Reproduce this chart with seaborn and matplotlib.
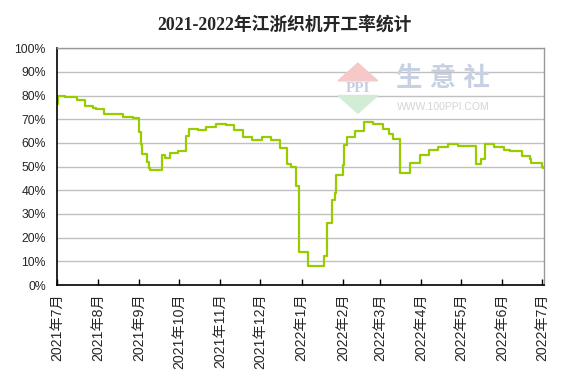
import pandas as pd
import seaborn as sns
from matplotlib import pyplot as plt
from matplotlib.patches import Polygon
from matplotlib.ticker import FuncFormatter

# dates where the rate changes (value holds until next date)
dates = [
    "2021-07-01", "2021-07-02", "2021-07-07", "2021-07-16", "2021-07-22", "2021-07-28",
    "2021-07-30", "2021-08-05", "2021-08-20", "2021-08-27", "2021-09-01", "2021-09-02",
    "2021-09-03", "2021-09-07", "2021-09-08", "2021-09-09", "2021-09-18", "2021-09-20",
    "2021-09-24", "2021-09-30", "2021-10-06", "2021-10-08", "2021-10-15", "2021-10-21",
    "2021-10-29", "2021-11-05", "2021-11-11", "2021-11-18", "2021-11-25", "2021-12-02",
    "2021-12-09", "2021-12-16", "2021-12-21", "2021-12-24", "2021-12-28", "2021-12-30",
    "2022-01-06", "2022-01-18", "2022-01-20", "2022-01-24", "2022-01-26", "2022-01-27",
    "2022-02-01", "2022-02-02", "2022-02-04", "2022-02-10", "2022-02-17", "2022-02-24",
    "2022-03-03", "2022-03-08", "2022-03-11", "2022-03-16", "2022-03-24", "2022-03-31",
    "2022-04-07", "2022-04-14", "2022-04-21", "2022-04-29", "2022-05-12", "2022-05-16",
    "2022-05-19", "2022-05-26", "2022-06-02", "2022-06-07", "2022-06-16", "2022-06-22",
    "2022-06-23", "2022-07-01", "2022-07-02",
]
rates = [
    76.5, 80.0, 79.2, 78.3, 75.5, 74.8,
    74.2, 72.0, 71.1, 70.4, 64.8, 59.5,
    55.1, 51.9, 49.6, 48.7, 54.7, 53.6,
    55.7, 56.4, 62.7, 66.0, 65.5, 66.9,
    67.8, 67.4, 65.5, 62.3, 61.3, 62.3,
    61.2, 57.8, 51.2, 49.8, 41.6, 13.9,
    7.9, 12.1, 26.2, 35.7, 38.8, 46.5,
    50.8, 59.2, 62.3, 65.0, 69.0, 68.1,
    65.8, 63.7, 61.6, 47.3, 51.7, 55.0,
    57.1, 58.1, 59.6, 58.6, 50.9, 53.4,
    59.5, 58.1, 57.2, 56.7, 54.4, 53.2,
    51.5, 50.0, 49.5,
]
month_ticks = pd.date_range("2021-07-01", "2022-07-01", freq="MS")
tick_labels = [f"{d.year}年{d.month}月" for d in month_ticks]

df = pd.DataFrame({"date": pd.to_datetime(dates), "rate": rates})

sns.set_style("white")
plt.rcParams['font.family'] = ['Liberation Sans', 'Noto Sans CJK SC']

fig = plt.figure(figsize=(5.68, 3.85), dpi=100)
ax = fig.add_axes([0.1004, 0.2597, 0.8578, 0.6153])

sns.lineplot(data=df, x="date", y="rate", ax=ax, color="#99cc00",
             linewidth=1.6, drawstyle="steps-post")

ax.set_ylim(0, 100)
ax.set_yticks(range(0, 101, 10))
ax.yaxis.set_major_formatter(FuncFormatter(lambda v, p: f"{int(v)}%"))
ax.set_xlim(pd.Timestamp("2021-07-01"), pd.Timestamp("2022-07-02 16:00"))
ax.set_xticks(month_ticks)
ax.set_xticklabels(tick_labels, rotation=90, fontsize=10.2)
ax.tick_params(axis="y", labelsize=8.8, length=0, pad=8)
ax.tick_params(axis="x", direction="in", length=4, width=1, color="black", pad=6,
               bottom=True)
ax.grid(axis="y", color="#c0c0c0", linewidth=1)
ax.set_xlabel("")
ax.set_ylabel("")
for side in ["left", "bottom"]:
    ax.spines[side].set_color("black")
    ax.spines[side].set_linewidth(1.2)
for side in ["top", "right"]:
    ax.spines[side].set_color("#999999")
    ax.spines[side].set_linewidth(1)

fig.text(0.5, 0.937, "2021-2022年江浙织机开工率统计", ha="center", va="center",
         fontsize=12.8, fontweight="bold",
         family=["Liberation Serif", "Noto Sans CJK SC"])

# watermark
fig.patches.append(Polygon([[0.595, 0.79], [0.665, 0.79], [0.630, 0.836]],
                           closed=True, transform=fig.transFigure,
                           color="#f6c8c8", zorder=0))
fig.patches.append(Polygon([[0.595, 0.752], [0.665, 0.752], [0.630, 0.706]],
                           closed=True, transform=fig.transFigure,
                           color="#d2ecd6", zorder=0))
fig.text(0.630, 0.771, "PPI", ha="center", va="center", fontsize=11,
         color="#c8cee2", family=["Liberation Serif"], fontweight="bold")
fig.text(0.780, 0.797, "生 意 社", ha="center", va="center", fontsize=19,
         color="#c8d0e4", fontweight="bold")
fig.text(0.780, 0.722, "WWW.100PPI.COM", ha="center", va="center", fontsize=7.5,
         color="#d4d4d4")

fig.savefig("out.png", dpi=100)
